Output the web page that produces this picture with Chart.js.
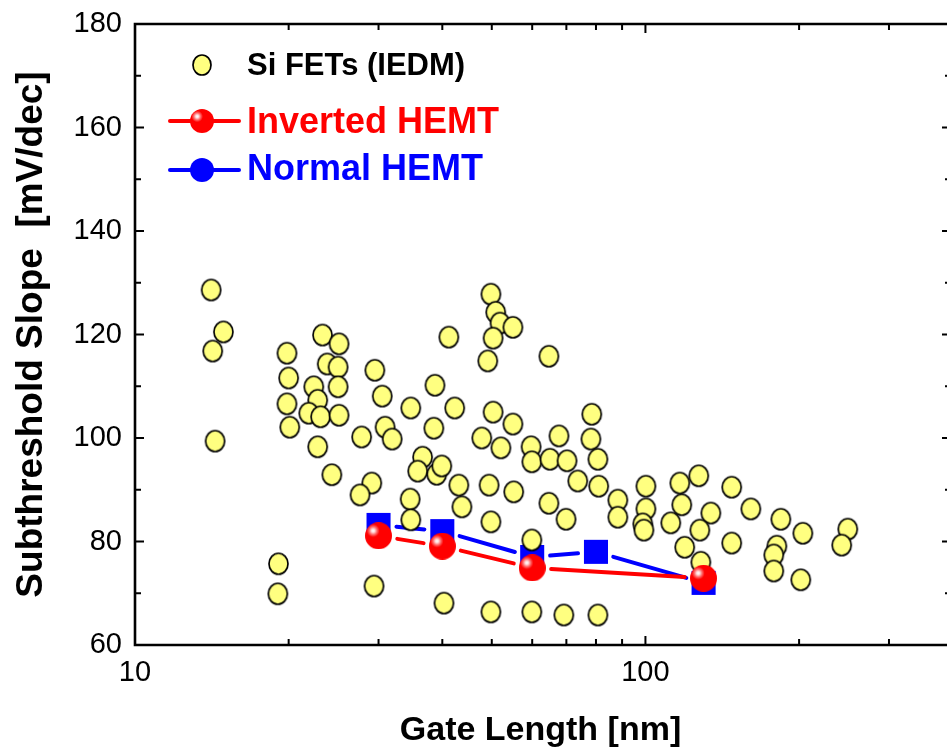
<!DOCTYPE html>
<html>
<head>
<meta charset="utf-8">
<title>Subthreshold slope vs gate length</title>
<script src="https://cdn.jsdelivr.net/npm/chart.js@4.4.0/dist/chart.umd.min.js"></script>
<style>
  html, body { margin: 0; padding: 0; background: #fff; }
</style>
</head>
<body>
<canvas id="slopeChart" width="947" height="751"></canvas>
<script>
// Si FETs (IEDM) - gate length [nm] and subthreshold slope [mV/dec]
const siGateLength = [
  14.1, 14.9, 14.2, 14.35, 19.85, 20.0, 19.85, 20.1, 19.1, 19.05,
  23.3, 25.1, 23.8, 25.0, 25.0, 22.4, 22.8, 21.9, 23.1, 25.1,
  22.8, 24.3, 29.5, 30.5, 30.9, 31.9, 27.8, 29.1, 27.6, 29.4,
  34.7, 38.7, 42.3, 38.5, 41.2, 36.6, 35.8, 39.0, 39.9, 43.1,
  43.7, 34.6, 34.7, 40.3, 49.8, 49.8, 50.9, 51.9, 55.0, 50.3,
  49.1, 64.7, 50.3, 55.0, 47.8, 52.1, 59.7, 59.9, 65.0, 70.2,
  67.7, 78.5, 78.2, 80.7, 73.7, 81.0, 49.4, 55.2, 49.8, 64.7,
  69.9, 88.3, 88.3, 100.2, 100.2, 98.8, 99.3, 112.1, 116.8, 117.8,
  127.2, 134.3, 127.8, 119.4, 128.4, 147.6, 147.6, 160.9, 184.2, 180.9,
  178.4, 178.4, 203.4, 201.5, 249.1, 242.4, 59.9, 59.9, 69.2, 80.7
];
const siSlope = [
  128.6, 120.5, 116.8, 99.4, 116.4, 111.6, 106.6, 102.1, 75.7, 69.9,
  119.9, 118.2, 114.3, 113.7, 109.9, 109.9, 107.3, 104.8, 104.1, 104.4,
  98.3, 92.9, 113.1, 108.1, 102.1, 99.8, 100.2, 91.3, 89.0, 71.4,
  105.8, 110.2, 105.8, 101.9, 119.5, 96.3, 93.6, 93.0, 94.6, 90.9,
  86.7, 88.2, 84.2, 68.1, 66.4, 127.8, 124.3, 122.2, 121.4, 119.3,
  114.9, 115.8, 105.0, 102.7, 100.0, 98.1, 98.3, 95.4, 95.9, 95.6,
  100.4, 104.6, 99.8, 95.9, 91.7, 90.7, 90.9, 89.6, 83.8, 87.4,
  84.3, 88.0, 84.7, 90.7, 86.3, 83.4, 82.2, 83.6, 91.3, 87.1,
  92.7, 85.5, 82.2, 78.9, 76.0, 90.5, 79.7, 86.3, 84.3, 79.1,
  77.4, 74.3, 81.6, 72.6, 82.4, 79.3, 80.3, 66.4, 65.8, 65.8
];

// HEMTs
const invGateLength = [30, 40, 60, 130];
const invSlope = [81.1, 79.1, 74.9, 72.9];
const normGateLength = [30, 40, 60, 80, 130];
const normSlope = [83.2, 82.0, 77.0, 78.0, 72.0];

// axis ticks
const xLabelTicks = [10, 100];
const xMinorTicks = [20, 30, 40, 50, 60, 70, 80, 90, 200, 300];
const yLabelTicks = [60, 80, 100, 120, 140, 160, 180];
const yMinorTicks = [70, 90, 110, 130, 150, 170];

const FONT = '"Liberation Sans", Arial, Helvetica, sans-serif';

// marker images
function makeEllipse(w, h, fill) {
  const c = document.createElement('canvas');
  c.width = w + 4; c.height = h + 4;
  const g = c.getContext('2d');
  g.beginPath();
  g.ellipse(c.width / 2, c.height / 2, w / 2, h / 2, 0, 0, Math.PI * 2);
  g.fillStyle = fill;
  g.fill();
  g.lineWidth = 1.7;
  g.strokeStyle = '#000';
  g.stroke();
  return c;
}

function makeSphere(d) {
  const c = document.createElement('canvas');
  c.width = d; c.height = d;
  const g = c.getContext('2d');
  const r = d / 2;
  const hx = r - d * 0.2, hy = r - d * 0.19;
  const grad = g.createRadialGradient(hx, hy, 0, hx, hy, d * 0.32);
  grad.addColorStop(0, '#ffffff');
  grad.addColorStop(0.18, '#ffe0e0');
  grad.addColorStop(0.45, '#ff6a6a');
  grad.addColorStop(0.75, '#ff0000');
  grad.addColorStop(1, '#ff0000');
  g.beginPath();
  g.arc(r, r, r, 0, Math.PI * 2);
  g.fillStyle = grad;
  g.fill();
  return c;
}

const yellowDot = makeEllipse(19, 21, '#ffff80');
const redSphere = makeSphere(27);
const legendYellow = makeEllipse(18, 20, '#ffff80');
const legendSphere = makeSphere(24);

// lines between HEMT points, stopped short of each marker
const gapLines = {
  id: 'gapLines',
  beforeDatasetDraw(chart, args) {
    const ds = chart.data.datasets[args.index];
    if (!ds.gapLine) return;
    const pts = args.meta.data;
    const ctx = chart.ctx;
    ctx.save();
    ctx.strokeStyle = ds.gapLine.color;
    ctx.lineWidth = 4;
    ctx.lineCap = 'round';
    for (let i = 0; i < pts.length - 1; i++) {
      const a = pts[i], b = pts[i + 1];
      const dx = b.x - a.x, dy = b.y - a.y;
      const len = Math.hypot(dx, dy);
      const g = ds.gapLine.gap;
      if (len <= 2 * g) continue;
      const ux = dx / len, uy = dy / len;
      ctx.beginPath();
      ctx.moveTo(a.x + ux * g, a.y + uy * g);
      ctx.lineTo(b.x - ux * g, b.y - uy * g);
      ctx.stroke();
    }
    ctx.restore();
  }
};

// box frame and inward ticks
const frameTicks = {
  id: 'frameTicks',
  afterDatasetsDraw(chart) {
    const { ctx, chartArea: a, scales: { x, y } } = chart;
    const rightEdge = a.right + 5;
    ctx.save();
    ctx.strokeStyle = '#000';
    ctx.lineWidth = 2.6;
    ctx.beginPath();
    ctx.moveTo(a.left, a.top); ctx.lineTo(chart.width + 2, a.top);
    ctx.moveTo(a.left, a.top - 1.3); ctx.lineTo(a.left, a.bottom);
    ctx.lineTo(chart.width + 2, a.bottom);
    ctx.stroke();

    ctx.lineWidth = 2;
    ctx.beginPath();
    xLabelTicks.forEach(v => {
      const px = x.getPixelForValue(v);
      ctx.moveTo(px, a.bottom); ctx.lineTo(px, a.bottom - 9);
      ctx.moveTo(px, a.top); ctx.lineTo(px, a.top + 9);
    });
    xMinorTicks.forEach(v => {
      const px = x.getPixelForValue(v);
      ctx.moveTo(px, a.bottom); ctx.lineTo(px, a.bottom - 6);
      ctx.moveTo(px, a.top); ctx.lineTo(px, a.top + 6);
    });
    yLabelTicks.forEach(v => {
      const py = y.getPixelForValue(v);
      ctx.moveTo(a.left, py); ctx.lineTo(a.left + 9, py);
      ctx.moveTo(rightEdge, py); ctx.lineTo(rightEdge - 9, py);
    });
    yMinorTicks.forEach(v => {
      const py = y.getPixelForValue(v);
      ctx.moveTo(a.left, py); ctx.lineTo(a.left + 6, py);
      ctx.moveTo(rightEdge, py); ctx.lineTo(rightEdge - 6, py);
    });
    ctx.stroke();
    ctx.restore();
  }
};

// legend drawn inside the plot, top left
const insideLegend = {
  id: 'insideLegend',
  afterDraw(chart) {
    const ctx = chart.ctx;
    const a = chart.chartArea;
    const sx = a.left + 67;   // marker centre
    const tx = a.left + 112;  // text start
    ctx.save();
    ctx.textBaseline = 'alphabetic';
    ctx.textAlign = 'left';

    // Si FETs
    ctx.drawImage(legendYellow, sx - legendYellow.width / 2, 65 - legendYellow.height / 2);
    ctx.fillStyle = '#000';
    ctx.font = 'bold 31px ' + FONT;
    ctx.fillText(chart.data.datasets[1].label, tx, 75);

    // Inverted HEMT
    ctx.strokeStyle = '#ff0000';
    ctx.lineWidth = 4;
    ctx.lineCap = 'round';
    ctx.beginPath();
    ctx.moveTo(a.left + 35, 121); ctx.lineTo(a.left + 104, 121);
    ctx.stroke();
    ctx.drawImage(legendSphere, sx - legendSphere.width / 2, 121 - legendSphere.height / 2);
    ctx.fillStyle = '#ff0000';
    ctx.font = 'bold 36px ' + FONT;
    ctx.fillText(chart.data.datasets[0].label, tx, 133);

    // Normal HEMT
    ctx.strokeStyle = '#0000ff';
    ctx.beginPath();
    ctx.moveTo(a.left + 35, 170); ctx.lineTo(a.left + 104, 170);
    ctx.stroke();
    ctx.fillStyle = '#0000ff';
    ctx.beginPath();
    ctx.arc(sx, 170, 12, 0, Math.PI * 2);
    ctx.fill();
    ctx.fillText(chart.data.datasets[2].label, tx, 180);
    ctx.restore();
  }
};

const ctx = document.getElementById('slopeChart').getContext('2d');

const chart = new Chart(ctx, {
  type: 'scatter',
  data: {
    datasets: [
      {
        label: 'Inverted HEMT',
        data: invGateLength.map((v, i) => ({ x: v, y: invSlope[i] })),
        pointStyle: redSphere,
        pointRadius: 14,
        showLine: false,
        order: 0,
        gapLine: { color: '#ff0000', gap: 19 }
      },
      {
        label: 'Si FETs (IEDM)',
        data: siGateLength.map((v, i) => ({ x: v, y: siSlope[i] })),
        pointStyle: yellowDot,
        pointRadius: 10,
        showLine: false,
        order: 1
      },
      {
        label: 'Normal HEMT',
        data: normGateLength.map((v, i) => ({ x: v, y: normSlope[i] })),
        pointStyle: 'rect',
        pointRadius: 17,
        backgroundColor: '#0000ff',
        borderColor: '#0000ff',
        borderWidth: 0,
        showLine: false,
        order: 2,
        gapLine: { color: '#0000ff', gap: 18 }
      }
    ]
  },
  options: {
    responsive: false,
    animation: false,
    devicePixelRatio: 1,
    // autoPadding would shrink the plot by the biggest marker radius
    layout: { autoPadding: false, padding: { top: 24, right: 1, left: 0, bottom: 0 } },
    plugins: {
      legend: { display: false },
      tooltip: { enabled: false }
    },
    scales: {
      x: {
        type: 'logarithmic',
        bounds: 'data',
        min: 10,
        max: 388,
        afterBuildTicks: s => {
          s.min = 10;
          s.max = 388;
          s.ticks = xLabelTicks.map(v => ({ value: v }));
        },
        afterFit: s => { s.height = 106; s.paddingLeft = 0; s.paddingRight = 0; },
        grid: { display: false, drawTicks: false },
        border: { display: false },
        ticks: {
          color: '#000',
          font: { family: FONT, size: 29 },
          padding: 11,
          autoSkip: false,
          maxRotation: 0,
          callback: v => String(v)
        },
        title: {
          display: true,
          text: 'Gate Length [nm]',
          color: '#000',
          font: { family: FONT, size: 34, weight: 'bold' },
          padding: { top: 2, bottom: 0 }
        }
      },
      y: {
        min: 60,
        max: 180,
        afterBuildTicks: s => { s.ticks = yLabelTicks.map(v => ({ value: v })); },
        afterFit: s => { s.width = 135; s.paddingTop = 0; s.paddingBottom = 0; },
        grid: { display: false, drawTicks: false },
        border: { display: false },
        ticks: {
          color: '#000',
          font: { family: FONT, size: 29 },
          padding: 13
        },
        title: {
          display: true,
          text: 'Subthreshold Slope  [mV/dec]',
          color: '#000',
          font: { family: FONT, size: 37, weight: 'bold' },
          padding: { top: 10, bottom: 0 }
        }
      }
    }
  },
  plugins: [gapLines, frameTicks, insideLegend]
});

// the original is cropped right at the plot's right edge: keep the plot area flush with the canvas edge
for (let i = 0; i < 3; i++) {
  const shortBy = 946 - chart.chartArea.right;
  if (Math.abs(shortBy) < 0.5) break;
  chart.options.layout.padding.right -= shortBy;
  chart.update();
}
</script>
</body>
</html>
